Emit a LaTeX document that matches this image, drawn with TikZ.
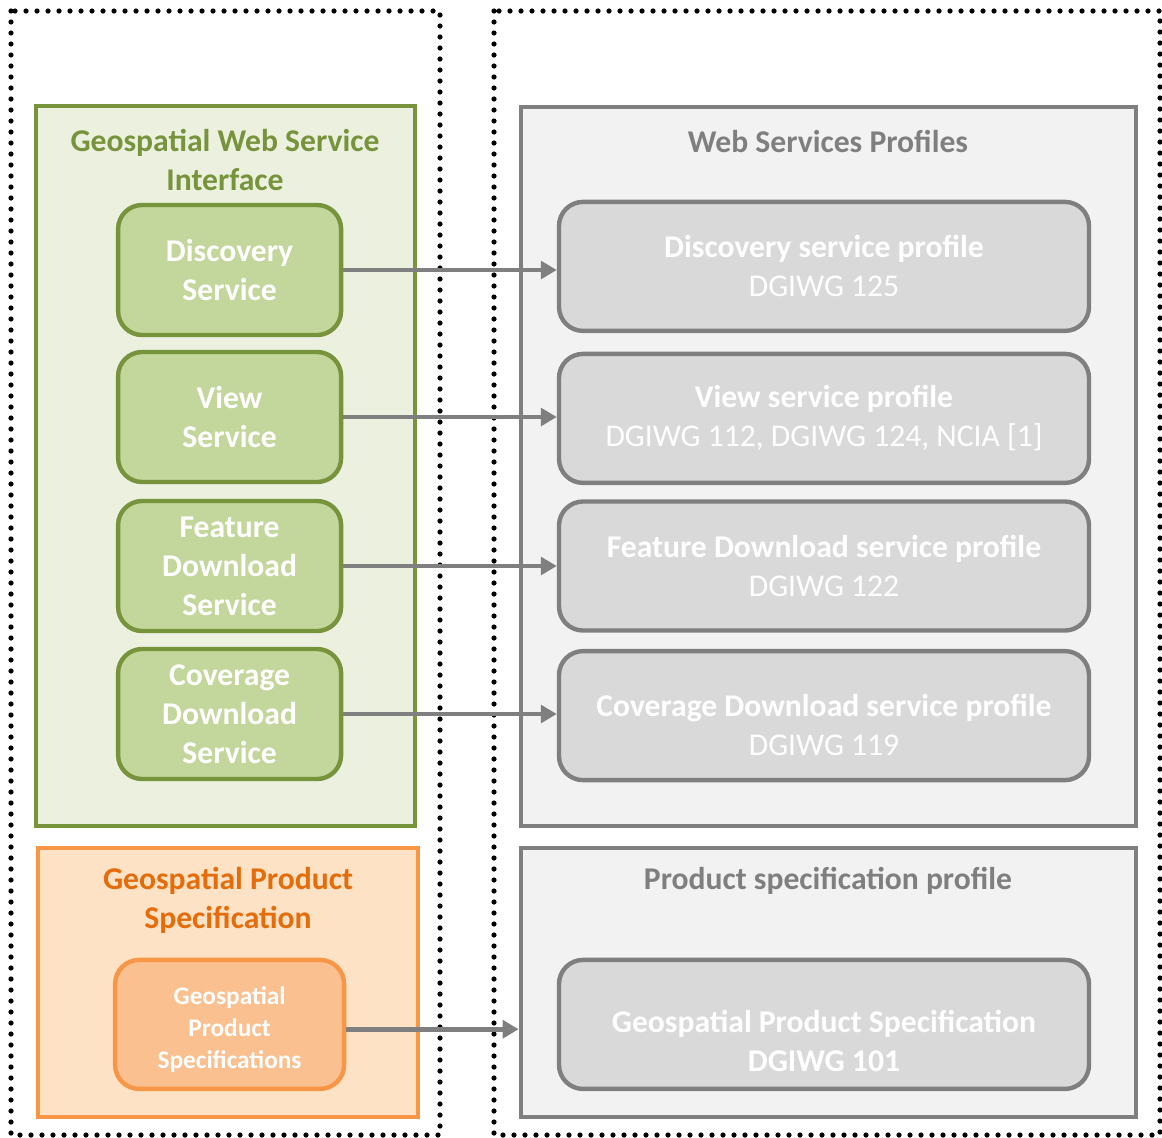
\documentclass[tikz,border=0pt]{standalone}
\usepackage{fontspec}
\setmainfont{Carlito}
\usetikzlibrary{arrows.meta}

\begin{document}
\begin{tikzpicture}
		\tikzstyle{every node}=[font=\fontsize{22.5pt}{27.7pt}\selectfont\bfseries]
		\tikzstyle{base} = [draw, line width=1.1mm, inner sep=0pt]
		\tikzstyle{blank} = [align=center, inner sep=0pt, outer sep=0pt]
		\tikzstyle{block} = [draw, rounded corners=0.6cm, align=center, line width=1.1mm, text=white, minimum width=5.575cm, minimum height=3.25cm]
		\tikzstyle{perfil} = [block, minimum width=13.25cm, minimum height=3.225cm, draw={rgb,255:red,127; green,127; blue,127}, fill={rgb,255:red,217; green,217; blue,217}]
		\tikzstyle{flecha} = [-{Triangle[length=4mm, width=4.4mm]}, line width=1.2mm, draw={rgb,255:red,127; green,127; blue,127}]
		\tikzstyle{punteado} = [line width=1.3mm, dash pattern=on 0pt off 2.75mm, line cap=round]
		
		\useasboundingbox (0,0) rectangle (29.05cm,-28.425cm);
		\draw[punteado] (0.275cm,-0.275cm) rectangle (11cm,-28.375cm);
		\draw[punteado] (12.35cm,-0.275cm) rectangle (29cm,-28.375cm);
		
		% interfaces
		\draw (5.64cm,-11.65cm) node[base, minimum width=9.475cm, minimum height=18cm, draw={rgb,255:red,119; green,147; blue,60}, fill={rgb,255:red,235; green,241; blue,222}](gwsi){};
		\draw (5.625cm,-3.99cm) node[blank, text={rgb,255:red,119; green,147; blue,60}](gwsit){Geospatial Web Service\\Interface};
		\tikzstyle{verde} = [block, draw={rgb,255:red,119; green,147; blue,60}, fill={rgb,255:red,195; green,214; blue,155}]
		\draw (5.74cm,-6.75cm) node[verde](disc){Discovery\\Service};
		\draw (5.74cm,-10.425cm) node[verde](view){View\\Service};
		\draw (5.74cm,-14.15cm) node[verde](feat){Feature\\Download\\Service};
		\draw (5.74cm,-17.85cm) node[verde](cov){Coverage\\Download\\Service};
		
		\draw (5.7cm,-24.56cm) node[base, minimum width=9.5cm, minimum height=6.725cm, draw={rgb,255:red,247; green,150; blue,70}, fill={rgb,255:red,253; green,226; blue,197}](gps){};
		\draw (5.7cm,-22.51cm) node[blank, text={rgb,255:red,228; green,108; blue,10}](gpst){Geospatial Product\\Specification};
		\draw (5.74cm,-25.61cm) node[block, minimum width=5.725cm, minimum height=3.225cm, draw={rgb,255:red,247; green,150; blue,70}, fill={rgb,255:red,250; green,192; blue,144}](gpspec){};
		\draw (5.74cm,-25.75cm) node[blank, text=white, font=\fontsize{18pt}{22.8pt}\selectfont\bfseries](gpspect){Geospatial\\Product\\Specifications};
		
		% perfiles
		\draw (20.71cm,-11.66cm) node[base, minimum width=15.375cm, minimum height=17.975cm, draw={rgb,255:red,127; green,127; blue,127}, fill={rgb,255:red,242; green,242; blue,242}](wsp){};
		\draw (20.7cm,-3.525cm) node[blank, text={rgb,255:red,127; green,127; blue,127}](wspt){Web Services Profiles};
		\draw (20.6cm,-6.66cm) node[perfil](pdisc){Discovery service profile\\\mdseries DGIWG 125};
		\draw (20.6cm,-10.46cm) node[perfil](pview){View service profile\\\mdseries DGIWG 112, DGIWG 124, NCIA [1]};
		\draw (20.6cm,-14.15cm) node[perfil](pfeat){Feature Download service profile\\\mdseries DGIWG 122};
		\draw (20.6cm,-17.89cm) node[perfil](pcov){};
		\draw (20.6cm,-18.12cm) node[blank, text=white](pcovt){Coverage Download service profile\\\mdseries DGIWG 119};
		
		\draw (20.71cm,-24.56cm) node[base, minimum width=15.375cm, minimum height=6.725cm, draw={rgb,255:red,127; green,127; blue,127}, fill={rgb,255:red,242; green,242; blue,242}](psp){};
		\draw (20.7cm,-22.025cm) node[blank, text={rgb,255:red,127; green,127; blue,127}](pspt){Product specification profile};
		\draw (20.6cm,-25.61cm) node[perfil](pgps){};
		\draw (20.6cm,-26.03cm) node[blank, text=white](pgpst){Geospatial Product Specification\\DGIWG 101};
		
		\draw [flecha] (disc.east) -- (disc.east -| pdisc.west);
		\draw [flecha] (view.east) -- (view.east -| pview.west);
		\draw [flecha] (feat.east) -- (feat.east -| pfeat.west);
		\draw [flecha] (cov.east) -- (cov.east -| pcov.west);
		\draw [flecha] ([yshift=-0.12cm]gpspec.east) -- ([yshift=-0.12cm]gpspec.east -| psp.west);
	\end{tikzpicture}
\end{document}
